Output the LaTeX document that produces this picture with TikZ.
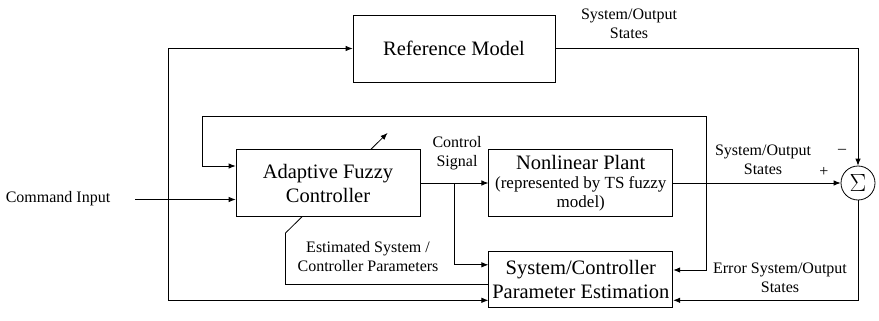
\documentclass[tikz,border=0pt]{standalone}
\usepackage{fontspec}
\setmainfont{Liberation Serif}
\usetikzlibrary{arrows.meta,positioning}

\begin{document}
\begin{tikzpicture}[x=1pt, y=-1pt, node distance=68pt, line width=0.8pt,
    >={Latex[length=7pt,width=5.5pt]},
    box/.style={draw, fill=white, align=center, inner sep=2pt,
      font=\fontsize{20.5}{24}\selectfont, minimum width=184pt, minimum height=67pt},
    sumnode/.style={draw, fill=white, circle, minimum size=34pt, inner sep=0pt,
      font=\fontsize{24}{26}\selectfont},
    lbl/.style={align=center, inner sep=0pt, font=\fontsize{16}{19}\selectfont}]
    \useasboundingbox (0,0) rectangle (879,321);

    % adjustment arrow goes first, the controller box hides its middle
    \coordinate (adjlo) at (285.5,233);
    \coordinate (adjhi) at (387.5,133);
    \draw[->] (adjlo) -- (adjhi);

    % blocks
    \node[box, minimum width=202pt] (ref) at (454,48.5) {Reference Model};
    \node[box]                      (ctrl) at (328,183) {Adaptive Fuzzy\\Controller};
    \node[box, right=of ctrl, font=\fontsize{17}{19}\selectfont] (plant)
      {{\fontsize{20.5}{22}\selectfont Nonlinear Plant}\\(represented by TS fuzzy\\model)};
    \node[box, below=34pt of plant, minimum height=56pt] (est)
      {System/Controller\\Parameter Estimation};
    \node[sumnode] (sum) at (858,183) {$\Sigma$};

    % labels
    \node[lbl] (cmd)    at (58,199)   {Command Input};
    \node[lbl] (refout) at (629,24)   {System/Output\\States};
    \node[lbl] (u)      at (457,153)  {Control\\Signal};
    \node[lbl] (yout)   at (763,160)  {System/Output\\States};
    \node[lbl] (plus)   at (824,172)  {+};
    \node[lbl] (minus)  at (842,151)  {--};
    \node[lbl] (thetahat) at (368,257) {Estimated System /\\Controller Parameters};
    \node[lbl] (err)    at (780,278)  {Error System/Output\\States};

    \coordinate (cmdin) at (135,199.5);
    \coordinate (split) at (168,199.5);
    \coordinate (tap)   at (454,183);
    \coordinate (loopL) at (202,116);
    \coordinate (loopR) at (706,270);

    % signal paths
    \draw[->] (cmdin) -- (cmdin -| ctrl.west);
    \draw[->] (split) |- (ref);
    \draw[->] (split) |- ([yshift=-21pt]est.west);
    \draw[->] (ref) -| (sum);
    \draw[->] (ctrl) -- (plant);
    \draw[->] (tap) |- ([yshift=14.5pt]est.west);
    \draw[->] (plant) -- (sum);
    \draw[->] (sum) |- ([yshift=-21pt]est.east);
    \draw[<->] ([yshift=17pt]ctrl.west) -| (loopL) -| (loopR) -- (loopR -| est.east);
    \draw ([yshift=-5pt]est.west) -| (adjlo);
\end{tikzpicture}
\end{document}
